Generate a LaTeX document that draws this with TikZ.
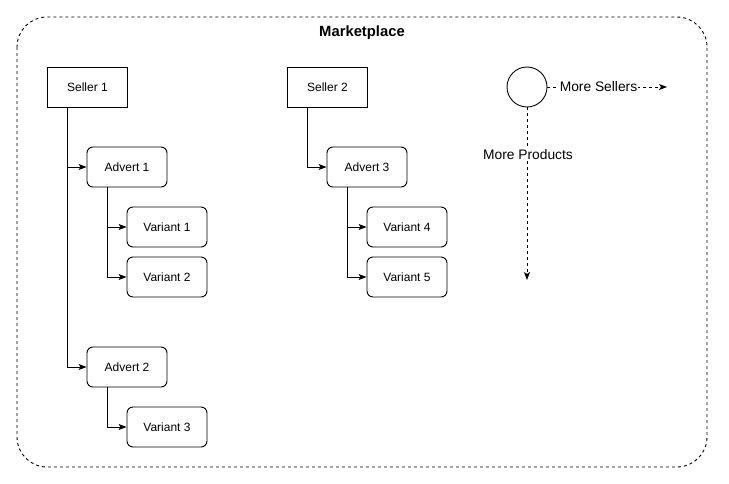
\documentclass[tikz,border=0pt]{standalone}
\usepackage{fontspec}
\setmainfont{Liberation Sans}
\usetikzlibrary{arrows.meta}
\begin{document}
\begin{tikzpicture}[x=1pt,y=-1pt,
  font=\fontsize{12}{14}\selectfont,
  line width=0.9pt,
  sq/.style={draw,minimum width=80pt,minimum height=40pt,inner sep=0pt},
  rbox/.style={draw,rounded corners=6pt,minimum width=80pt,minimum height=40pt,inner sep=0pt},
  elabel/.style={fill=white,inner sep=1pt,font=\fontsize{13.8}{16}\selectfont},
  conn/.style={-{Stealth[length=8pt,width=6pt,inset=2pt]}},
  dconn/.style={dashed,dash pattern=on 3pt off 3pt,-{Stealth[length=8pt,width=6pt,inset=2pt]}}]
\useasboundingbox (0,0) rectangle (729,483);
\draw[dash pattern=on 3pt off 3pt,rounded corners=30pt] (17,17) rectangle (707,467);
\node[font=\fontsize{14.8}{17}\selectfont\bfseries] (title) at (362,33) {Marketplace};
\node[sq] (s1) at (87.5,87) {Seller 1};
\node[sq] (s2) at (327.5,87) {Seller 2};
\node[rbox] (a1) at (127,167) {Advert 1};
\node[rbox] (a2) at (127,367) {Advert 2};
\node[rbox] (a3) at (367,167) {Advert 3};
\node[rbox] (v1) at (167,227) {Variant 1};
\node[rbox] (v2) at (167,277) {Variant 2};
\node[rbox] (v3) at (167,427) {Variant 3};
\node[rbox] (v4) at (407,227) {Variant 4};
\node[rbox] (v5) at (407,277) {Variant 5};
\node[draw,circle,minimum size=40pt,inner sep=0pt] (c) at (527,87) {};
\coordinate (ms) at (667,87);
\coordinate (mp) at (527,280);
\draw[conn] (s1.south -| 67,0) |- (a1.west);
\draw[conn] (s1.south -| 67,0) |- (a2.west);
\draw[conn] (a1.south -| 107,0) |- (v1.west);
\draw[conn] (a1.south -| 107,0) |- (v2.west);
\draw[conn] (a2.south -| 107,0) |- (v3.west);
\draw[conn] (s2.south -| 307,0) |- (a3.west);
\draw[conn] (a3.south -| 347,0) |- (v4.west);
\draw[conn] (a3.south -| 347,0) |- (v5.west);
\draw[dconn] (c.east) -- (ms);
\draw[dconn] (c.south) -- (mp);
\node[elabel] (lms) at (598.5,87) {More Sellers};
\node[elabel] (lmp) at (528,155) {More Products};
\end{tikzpicture}
\end{document}
